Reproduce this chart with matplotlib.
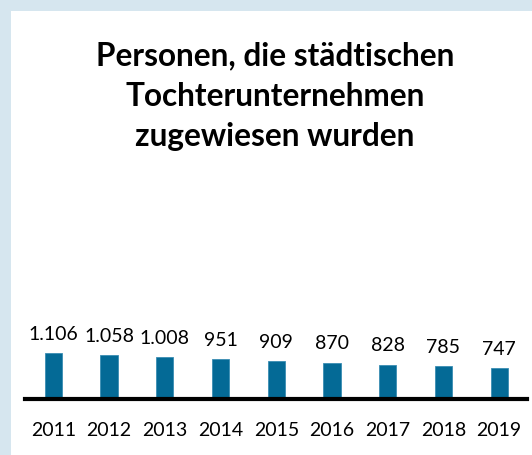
import matplotlib
matplotlib.use("Agg")
import matplotlib.pyplot as plt
from matplotlib.patches import Rectangle

# Daten
jahre = ["2011", "2012", "2013", "2014", "2015", "2016", "2017", "2018", "2019"]
personen = [1106, 1058, 1008, 951, 909, 870, 828, 785, 747]
labels = ["1.106", "1.058", "1.008", "951", "909", "870", "828", "785", "747"]

titel = "Personen, die städtischen\nTochterunternehmen\nzugewiesen wurden"

plt.rcParams['font.family'] = ['Lato', 'DejaVu Sans']

W, H = 532, 455
fig = plt.figure(figsize=(W / 100, H / 100), dpi=100)
fig.patch.set_facecolor('#d6e6ef')
# weisses Feld
fig.patches.append(Rectangle((11 / W, 0), 1 - 11 / W, 1 - 11 / H,
                             transform=fig.transFigure, facecolor='white',
                             edgecolor='none', zorder=-5))

fig.text(275 / W, 1 - 96 / H, titel, ha='center', va='center',
         fontsize=22.7, fontweight='bold', linespacing=1.47, color='black')

# Achse: Grundlinie bei y=399px, 0.0416 px pro Person
ymax = 1300
ax_h = ymax * 0.0416
ax = fig.add_axes([25 / W, 1 - 399 / H, (527 - 25) / W, ax_h / H])
ax.set_facecolor('none')
x = range(len(jahre))
ax.bar(x, personen, width=0.31, color='#046a96', edgecolor='#3a8db3', linewidth=0.6)
for i, v in enumerate(personen):
    ax.annotate(labels[i], (i, v), xytext=(0, 7.5), textcoords='offset points',
                ha='center', va='bottom', fontsize=14)

ax.set_xlim(-0.51, 8.5)
ax.set_ylim(0, ymax)
ax.set_xticks(list(x))
ax.set_xticklabels(jahre, fontsize=14)
ax.tick_params(axis='x', length=0, pad=16.5)
ax.set_yticks([])
for s in ['top', 'right', 'left']:
    ax.spines[s].set_visible(False)
ax.spines['bottom'].set_linewidth(3)
ax.spines['bottom'].set_color('black')

fig.savefig('out.png', dpi=100, facecolor=fig.get_facecolor())
